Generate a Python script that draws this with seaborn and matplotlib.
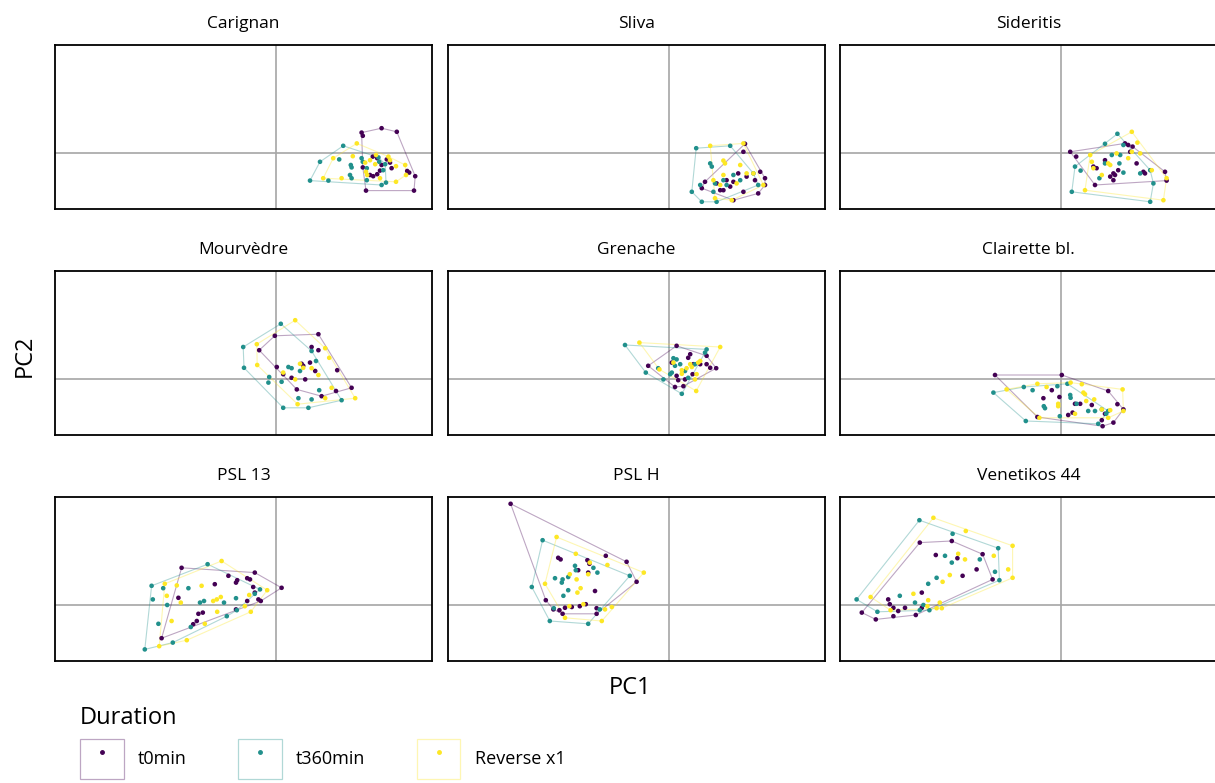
import numpy as np
import pandas as pd
import seaborn as sns
import matplotlib
matplotlib.use("Agg")
from matplotlib import pyplot as plt
from matplotlib.patches import Patch
from matplotlib.lines import Line2D

# ---- data: PCA scores (PC1, PC2) ----
cultivars = ["Carignan", "Sliva", "Sideritis",
             "Mourvèdre", "Grenache", "Clairette bl.",
             "PSL 13", "PSL H", "Venetikos 44"]
durations = ["t0min", "t360min", "Reverse x1"]
colores = ["#440154", "#21908C", "#FDE725"]

carignan_t0 = [(2.14,0.51),(2.17,0.43),(2.64,0.62),(3.02,0.53),(2.42,-0.09),(2.53,-0.13),(2.77,-0.16),
               (2.85,-0.24),(3.28,-0.45),(3.33,-0.49),(3.48,-0.58),(3.45,-0.94),(2.25,-0.94),(2.43,-0.58),
               (2.53,-0.53),(2.60,-0.44),(2.17,-0.36),(2.64,-0.30),(2.89,-0.38),(2.35,-0.55)]
carignan_t360 = [(1.68,0.18),(1.10,-0.22),(0.85,-0.69),(1.31,-0.69),(1.58,-0.16),(1.87,-0.30),(1.89,-0.36),
                 (1.85,-0.55),(1.89,-0.63),(2.14,-0.13),(2.17,-0.22),(2.27,-0.68),(2.64,-0.80),(2.58,-0.22),
                 (2.73,-0.28),(2.75,-0.74),(2.68,-0.43),(2.27,-0.38),(2.56,-0.11)]
carignan_rev = [(2.02,0.24),(1.43,-0.13),(1.18,-0.63),(1.64,-0.63),(1.92,-0.08),(2.23,-0.24),(2.25,-0.47),
                (2.28,-0.55),(2.50,-0.05),(2.85,-0.18),(3.00,-0.33),(3.23,-0.30),(3.25,-0.55),(3.00,-0.72),
                (2.60,-0.63),(2.48,-0.28),(2.35,-0.18),(2.81,-0.09)]

sliva_t0 = [(1.90,0.23),(1.86,0.03),(2.28,-0.47),(2.40,-0.63),(2.40,-0.80),(2.23,-1.01),(1.86,-0.97),
            (1.53,-0.84),(1.44,-0.68),(1.28,-0.93),(0.90,-0.72),(0.82,-0.88),(1.61,-1.18),(1.36,-0.93),
            (2.15,-0.68),(1.94,-0.59),(1.61,-0.72),(1.73,-0.51),(1.19,-0.76)]
sliva_t360 = [(0.68,0.12),(1.53,0.18),(0.57,-0.97),(0.82,-1.22),(1.19,-1.22),(1.03,-0.26),(1.07,-0.34),
              (1.36,-0.68),(1.44,-0.80),(1.15,-0.76),(1.61,-0.55),(0.78,-0.80),(2.11,-0.51),(1.78,-0.68),
              (2.23,-0.80),(1.11,-0.97)]
sliva_rev = [(1.03,0.18),(1.86,0.24),(1.36,-0.19),(1.40,-0.26),(1.78,-0.30),(1.36,-0.55),(1.11,-0.68),
             (1.94,-0.51),(2.11,-0.51),(2.36,-0.80),(1.57,-1.18),(1.15,-1.13),(1.69,-0.76),(1.28,-0.80)]

sideritis_t0 = [(0.23,0.03),(0.38,-0.09),(1.60,0.24),(1.68,0.20),(1.79,0.16),(1.73,0.03),(2.60,-0.47),
                (2.64,-0.69),(0.85,-0.80),(1.35,-0.55),(1.31,-0.68),(1.31,-0.51),(0.89,-0.38),(0.81,-0.34),
                (2.06,-0.47),(2.10,-0.51),(1.89,-0.26),(1.43,-0.43),(1.10,-0.18),(1.23,-0.59)]
sideritis_t360 = [(1.41,0.48),(1.10,0.23),(0.27,-0.97),(2.23,-1.22),(2.31,-0.76),(0.35,-0.34),(0.49,-0.44),
                  (1.27,-0.05),(1.48,-0.05),(1.10,-0.26),(1.46,-0.26),(1.56,-0.49),(1.98,-0.51),(0.96,-0.63),
                  (1.56,0.20),(2.23,-0.43)]
sideritis_rev = [(1.77,0.53),(1.91,0.26),(0.73,-0.05),(0.77,-0.22),(2.64,-0.63),(2.56,-1.18),(0.60,-0.93),
                 (1.18,-0.26),(1.23,-0.30),(1.68,-0.13),(1.77,0.03),(2.27,-0.43),(1.02,-0.55),(1.39,-0.01),
                 (0.81,-0.38),(1.98,-0.01)]

mourvedre_t0 = [(-0.03,1.08),(1.06,1.12),(-0.42,0.72),(0.89,0.80),(1.06,0.72),(1.53,0.22),(1.89,-0.22),
                (1.50,-0.30),(1.14,-0.43),(0.52,-0.26),(0.02,0.30),(0.18,0.12),(0.39,0.03),(0.68,0.33),
                (0.85,0.41),(0.98,0.20),(0.73,-0.01),(0.64,0.38)]
mourvedre_t360 = [(0.12,1.38),(-0.82,0.80),(-0.80,0.28),(-0.17,0.05),(-0.19,-0.09),(0.18,-0.72),(0.81,-0.72),
                  (1.64,-0.53),(0.89,0.70),(1.00,0.45),(0.31,0.30),(0.39,0.27),(1.08,-0.28),(0.56,-0.48),
                  (0.89,-0.51),(0.14,-0.07),(0.60,0.20)]
mourvedre_rev = [(0.48,1.47),(-0.48,0.87),(-0.47,0.35),(0.54,-0.63),(1.98,-0.48),(1.33,0.53),(1.23,0.77),
                 (1.39,-0.22),(1.23,-0.48),(0.60,0.38),(0.68,0.28),(0.89,0.27),(1.06,0.10),(0.48,-0.01),
                 (0.18,0.16)]

grenache_t0 = [(0.19,0.83),(-0.52,0.33),(0.94,0.58),(1.18,0.27),(0.36,-0.18),(0.15,-0.20),(0.53,0.62),
               (0.48,0.53),(0.61,0.37),(0.78,0.37),(0.94,0.37),(0.19,0.08),(0.23,-0.03),(0.40,-0.01),
               (0.59,0.12),(1.03,0.28),(0.07,0.41)]
grenache_t360 = [(-1.10,0.85),(0.94,0.74),(-0.58,0.16),(-0.14,-0.01),(0.32,-0.37),(-0.27,0.27),(0.11,0.52),
                 (0.19,0.49),(0.28,0.37),(0.15,0.33),(0.07,0.16),(0.03,0.12),(0.48,0.03),(0.65,0.37),
                 (0.90,0.66),(0.40,0.20)]
grenache_rev = [(-0.74,0.91),(1.28,0.80),(-0.24,0.24),(0.68,-0.30),(0.65,-0.01),(0.73,0.41),(0.78,0.45),
                (0.53,0.37),(0.57,0.30),(0.44,0.27),(0.32,0.13),(0.32,0.22),(0.69,0.12),(0.11,0.41)]

clairette_t0 = [(-1.65,0.10),(0.02,0.10),(1.18,-0.30),(1.41,-0.63),(1.56,-0.76),(1.31,-1.09),(1.04,-1.18),
                (-0.59,-0.95),(-0.44,-0.48),(-0.23,-0.28),(-0.04,-0.45),(0.18,-0.90),(0.35,-0.62),(0.48,-0.62),
                (0.77,-0.65),(1.10,-0.87),(1.02,-1.03),(0.29,-0.84)]
clairette_t360 = [(-1.69,-0.34),(-0.93,-0.20),(-0.09,-0.18),(0.16,-0.12),(1.18,-0.80),(0.93,-1.12),(-0.88,-1.05),
                  (-0.03,-0.93),(-0.71,-0.28),(-0.43,-0.68),(-0.40,-0.73),(0.23,-0.40),(0.24,-0.47),(0.39,-0.62),
                  (0.68,-0.80),(0.85,-0.80),(1.13,-0.87),(1.02,-0.76)]
clairette_rev = [(-1.36,-0.26),(-0.59,-0.12),(-0.36,-0.20),(0.24,-0.09),(0.52,-0.13),(1.54,-0.26),(1.56,-0.80),
                 (-0.54,-0.97),(-0.07,-0.62),(-0.07,-0.68),(0.56,-0.34),(0.60,-0.38),(0.83,-0.51),(0.63,-0.55),
                 (1.02,-0.76),(1.23,-0.78),(0.35,-0.87),(1.18,-0.97)]

psl13_t0 = [(-2.36,0.93),(-0.53,0.81),(0.14,0.43),(-2.86,-0.83),(-1.19,0.73),(-1.53,0.52),(-1.00,0.56),
            (-0.97,0.62),(-0.72,0.67),(-0.65,0.64),(-0.57,0.45),(-0.53,0.31),(-0.44,0.14),(-0.38,0.10),
            (-0.72,0.10),(-1.00,-0.11),(-1.94,-0.22),(-1.83,-0.19),(-1.98,-0.40),(-2.07,-0.48),(-2.44,0.18)]
psl13_t360 = [(-1.71,1.02),(-3.11,0.48),(-3.08,0.14),(-3.28,-1.11),(-2.58,-0.94),(-0.53,0.28),(-2.82,0.42),
              (-2.19,0.42),(-2.94,-0.47),(-2.72,0.00),(-1.90,0.06),(-1.80,0.10),(-1.30,0.06),(-1.00,0.17),
              (-0.98,-0.13),(-1.23,-0.28),(-2.13,-0.55),(-0.40,0.39)]
psl13_rev = [(-1.36,1.10),(-0.22,0.37),(-2.92,-1.03),(-2.23,-0.88),(-2.78,0.53),(-2.73,0.23),(-2.48,0.49),
             (-1.86,0.48),(-2.38,0.06),(-2.61,-0.40),(-1.78,-0.47),(-1.57,0.10),(-1.48,0.14),(-1.38,0.20),
             (-1.47,-0.17),(-0.67,0.25),(-0.63,-0.17),(-0.78,-0.03)]

pslh_t0 = [(-3.96,2.53),(-1.58,1.23),(-1.06,1.08),(-0.81,0.58),(-1.81,-0.22),(-2.66,-0.22),(-3.08,0.12),
           (-2.77,1.18),(-2.71,1.14),(-2.27,0.87),(-2.04,1.12),(-1.99,1.03),(-2.02,0.81),(-1.85,0.35),
           (-2.89,-0.11),(-2.74,-0.13),(-2.60,-0.07),(-2.43,-0.05),(-2.23,-0.03),(-2.08,0.02),(-1.81,-0.08)]
pslh_t360 = [(-3.16,1.62),(-0.98,0.73),(-3.43,0.45),(-2.98,-0.40),(-2.02,-0.47),(-2.85,0.67),(-2.66,0.64),
             (-2.68,0.56),(-2.52,0.37),(-2.64,0.23),(-2.35,0.98),(-2.33,0.87),(-1.89,0.93),(-1.79,0.81),
             (-2.52,0.70),(-1.73,-0.11),(-2.88,-0.08)]
pslh_rev = [(-2.81,1.70),(-0.63,0.81),(-3.10,0.53),(-2.60,-0.32),(-1.68,-0.40),(-2.33,1.28),(-1.98,1.06),
            (-1.54,1.00),(-1.43,-0.05),(-1.60,-0.11),(-2.48,0.77),(-2.31,0.64),(-2.21,0.42),(-2.29,0.31),
            (-2.02,0.77),(-2.49,-0.03),(-2.14,0.02)]

venetikos_t0 = [(-3.53,1.56),(-2.73,1.60),(-1.96,1.27),(-1.71,0.64),(-4.98,-0.19),(-4.63,-0.36),(-4.19,-0.28),
                (-3.63,-0.25),(-4.32,0.14),(-4.19,-0.07),(-4.07,-0.15),(-3.48,0.31),(-3.13,1.25),(-2.59,1.17),
                (-2.46,0.73),(-2.11,0.89),(-3.48,-0.07),(-3.90,-0.07),(-4.28,0.02)]
venetikos_t360 = [(-3.54,2.12),(-2.71,1.78),(-1.57,1.42),(-1.54,0.62),(-5.11,0.14),(-4.59,-0.17),(-3.53,-0.13),
                  (-3.29,-0.13),(-2.90,1.23),(-2.73,1.06),(-2.03,1.14),(-1.65,0.83),(-3.11,0.68),(-3.32,0.53),
                  (-4.03,0.23),(-3.65,0.06),(-3.44,0.00)]
venetikos_rev = [(-3.19,2.18),(-2.38,1.85),(-1.21,1.48),(-1.21,0.68),(-4.76,0.20),(-4.26,-0.13),(-3.11,-0.08),
                 (-2.98,-0.08),(-2.57,1.28),(-2.40,1.14),(-1.68,1.23),(-1.32,0.89),(-2.78,0.75),(-2.96,0.58),
                 (-3.69,0.28),(-3.32,0.12),(-3.03,0.06),(-3.34,-0.03)]

groups = {
    "Carignan": [carignan_t0, carignan_t360, carignan_rev],
    "Sliva": [sliva_t0, sliva_t360, sliva_rev],
    "Sideritis": [sideritis_t0, sideritis_t360, sideritis_rev],
    "Mourvèdre": [mourvedre_t0, mourvedre_t360, mourvedre_rev],
    "Grenache": [grenache_t0, grenache_t360, grenache_rev],
    "Clairette bl.": [clairette_t0, clairette_t360, clairette_rev],
    "PSL 13": [psl13_t0, psl13_t360, psl13_rev],
    "PSL H": [pslh_t0, pslh_t360, pslh_rev],
    "Venetikos 44": [venetikos_t0, venetikos_t360, venetikos_rev],
}

filas = []
for cv in cultivars:
    for dur, pts in zip(durations, groups[cv]):
        for x, y in pts:
            filas.append({"cultivar": cv, "Duration": dur, "PC1": x, "PC2": y})
df = pd.DataFrame(filas)


def convex_hull(p):
    # monotone chain
    p = sorted(set(map(tuple, p)))
    if len(p) < 3:
        return np.array(p)
    def cross(o, a, b):
        return (a[0]-o[0])*(b[1]-o[1]) - (a[1]-o[1])*(b[0]-o[0])
    lower, upper = [], []
    for q in p:
        while len(lower) >= 2 and cross(lower[-2], lower[-1], q) <= 0:
            lower.pop()
        lower.append(q)
    for q in reversed(p):
        while len(upper) >= 2 and cross(upper[-2], upper[-1], q) <= 0:
            upper.pop()
        upper.append(q)
    return np.array(lower[:-1] + upper[:-1])


sns.set_style("white")
plt.rcParams['font.family'] = ['Open Sans', 'DejaVu Sans']
plt.rcParams['text.color'] = 'black'

fig = plt.figure(figsize=(12.15, 7.83), dpi=100)

W, H = 1215, 783
lefts = [55, 448, 840]
tops = [45, 271, 497]
pw, ph = 377, 164

for i, cv in enumerate(cultivars):
    r, c = divmod(i, 3)
    ax = fig.add_axes([lefts[c]/W, 1 - (tops[r]+ph)/H, pw/W, ph/H])
    ax.axhline(0, color="#a6a6a6", lw=1.2, zorder=0)
    ax.axvline(0, color="#a6a6a6", lw=1.2, zorder=0)
    sub = df[df.cultivar == cv]
    for dur, col in zip(durations, colores):
        d = sub[sub.Duration == dur]
        h = convex_hull(d[["PC1", "PC2"]].values)
        ax.fill(h[:, 0], h[:, 1], facecolor="none", edgecolor=col, alpha=0.35, lw=0.8)
    sns.scatterplot(data=sub, x="PC1", y="PC2", hue="Duration", hue_order=durations,
                    palette=colores, s=11, linewidth=0, legend=False, ax=ax)
    ax.set_xlim(-5.525, 3.9)
    ax.set_ylim(-1.4, 2.7)
    ax.set_xticks([])
    ax.set_yticks([])
    ax.set_xlabel("")
    ax.set_ylabel("")
    for s in ax.spines.values():
        s.set_color("black")
        s.set_linewidth(1.3)
    ax.set_title(cv, fontsize=12.5, pad=12, color="black")

fig.text(25/W, 1 - 356/H, "PC2", rotation=90, fontsize=17, ha="center", va="center")
fig.text(630/W, 1 - 688/H, "PC1", fontsize=17, ha="center", va="center")

handles = []
for col in colores:
    caja = Patch(facecolor="none", edgecolor=col, alpha=0.35, lw=0.9)
    punto = Line2D([], [], marker="o", ls="none", color=col, markersize=2.5)
    handles.append((caja, punto))
leg = fig.legend(handles, durations, loc="upper left", bbox_to_anchor=(64/W, 1 - 690/H),
                 ncol=3, frameon=False, title="Duration", fontsize=13, title_fontsize=17,
                 handlelength=2.4, handleheight=3.0, columnspacing=2.85, handletextpad=0.8,
                 alignment="left")

fig.savefig("out.png", dpi=100)
